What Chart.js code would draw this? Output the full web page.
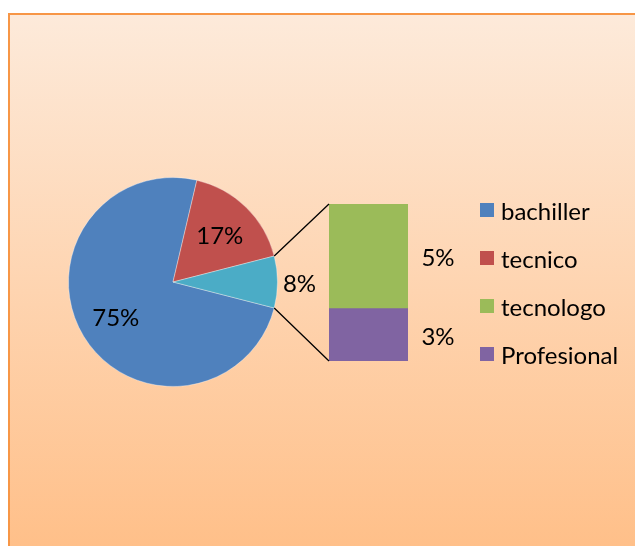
<!DOCTYPE html>
<html>
<head>
<meta charset="utf-8">
<script src="https://cdn.jsdelivr.net/npm/chart.js@4"></script>
<style>
body{margin:0;width:635px;height:546px;overflow:hidden;background:#fff;font-family:Lato,sans-serif}
#box{position:absolute;left:8px;top:13px;width:640px;height:540px;border:2px solid #F79646;background:linear-gradient(#FDEADA,#FFBF88)}
canvas{position:absolute;left:0;top:0}
#legend{position:absolute;left:480px;top:0}
.item{position:absolute;left:0;height:24px;display:flex;align-items:center;white-space:nowrap;font-size:24px;color:#000}
.sw{display:inline-block;width:14px;height:14px;margin-right:7px}
</style>
</head>
<body>
<div id="box"></div>
<canvas id="pie" width="635" height="546"></canvas>
<canvas id="bar" width="635" height="546"></canvas>
<div id="legend"></div>
<script>
// nivel de estudios
const categories = ['bachiller', 'tecnico', 'tecnologo', 'Profesional'];
const counts = [56, 13, 4, 2];
const colors = ['#4F81BD', '#C0504D', '#9BBB59', '#8064A2'];
const otherColor = '#4BACC6';
const splitAt = 2; // tecnologo + Profesional go in the bar

const total = counts.reduce((a, b) => a + b, 0);
const otherTotal = counts.slice(splitAt).reduce((a, b) => a + b, 0);
const pct = v => Math.round(v / total * 100) + '%';

const pieData = counts.slice(0, splitAt).concat([otherTotal]);
const pieColors = colors.slice(0, splitAt).concat([otherColor]);

const pieLabels = {
    id: 'pieLabels',
    afterDatasetsDraw(chart) {
        const ctx = chart.ctx;
        const arcs = chart.getDatasetMeta(0).data;
        ctx.save();
        ctx.font = '24px Lato';
        ctx.fillStyle = '#000';
        ctx.textAlign = 'center';
        ctx.textBaseline = 'middle';
        arcs.forEach((arc, i) => {
            const mid = (arc.startAngle + arc.endAngle) / 2;
            const r = i < splitAt ? arc.outerRadius * 0.64 : arc.outerRadius + 22;
            ctx.fillText(pct(pieData[i]), arc.x + Math.cos(mid) * r, arc.y + Math.sin(mid) * r + 2);
        });
        ctx.restore();
    }
};

const pieChart = new Chart(document.getElementById('pie'), {
    type: 'pie',
    data: {
        labels: categories.slice(0, splitAt).concat(['otro']),
        datasets: [{
            data: pieData,
            backgroundColor: pieColors,
            borderColor: 'rgba(255,255,255,0.35)',
            borderWidth: 1,
            hoverOffset: 0
        }]
    },
    options: {
        responsive: false,
        animation: false,
        rotation: 90 + otherTotal / total * 180,
        layout: {padding: {left: 68, top: 177, right: 357, bottom: 159}},
        plugins: {legend: {display: false}, tooltip: {enabled: false}}
    },
    plugins: [pieLabels]
});

const barExtras = {
    id: 'barExtras',
    afterDatasetsDraw(chart) {
        const ctx = chart.ctx;
        let top = Infinity, bottom = -Infinity, left = 0;
        ctx.save();
        ctx.font = '24px Lato';
        ctx.fillStyle = '#000';
        ctx.textAlign = 'center';
        ctx.textBaseline = 'middle';
        chart.data.datasets.forEach((ds, i) => {
            const bar = chart.getDatasetMeta(i).data[0];
            top = Math.min(top, bar.y, bar.base);
            bottom = Math.max(bottom, bar.y, bar.base);
            left = bar.x - bar.width / 2;
            ctx.fillText(pct(ds.data[0]), bar.x + bar.width / 2 + 30, (bar.y + bar.base) / 2 + 2);
        });
        // connector lines from the pie slice to the bar
        const arc = pieChart.getDatasetMeta(0).data[splitAt];
        ctx.strokeStyle = '#000';
        ctx.lineWidth = 1.3;
        ctx.beginPath();
        ctx.moveTo(arc.x + Math.cos(arc.startAngle) * arc.outerRadius, arc.y + Math.sin(arc.startAngle) * arc.outerRadius);
        ctx.lineTo(left, top);
        ctx.moveTo(arc.x + Math.cos(arc.endAngle) * arc.outerRadius, arc.y + Math.sin(arc.endAngle) * arc.outerRadius);
        ctx.lineTo(left, bottom);
        ctx.stroke();
        ctx.restore();
    }
};

const barSets = [];
for (let i = counts.length - 1; i >= splitAt; i--) {
    barSets.push({label: categories[i], data: [counts[i]], backgroundColor: colors[i], borderWidth: 0});
}

new Chart(document.getElementById('bar'), {
    type: 'bar',
    data: {labels: [''], datasets: barSets},
    options: {
        responsive: false,
        animation: false,
        barPercentage: 1,
        categoryPercentage: 1,
        layout: {padding: {left: 329, top: 204, right: 227, bottom: 185}},
        scales: {
            x: {display: false, stacked: true},
            y: {display: false, stacked: true, min: 0, max: otherTotal}
        },
        plugins: {legend: {display: false}, tooltip: {enabled: false}}
    },
    plugins: [barExtras]
});

const legend = document.getElementById('legend');
categories.forEach((c, i) => {
    const item = document.createElement('div');
    item.className = 'item';
    item.style.top = (198 + i * 48) + 'px';
    item.innerHTML = '<span class="sw" style="background:' + colors[i] + '"></span>' + c;
    legend.appendChild(item);
});
</script>
</body>
</html>
